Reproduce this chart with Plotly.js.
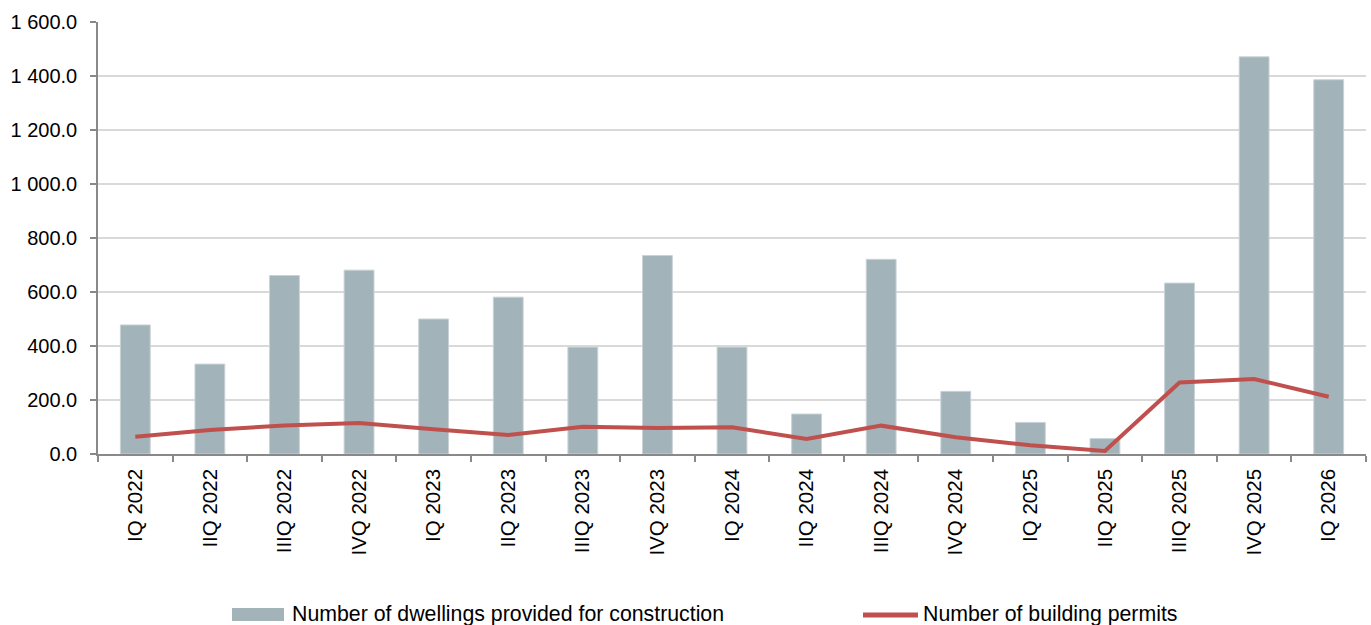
<!DOCTYPE html>
<html>
<head>
<meta charset="utf-8">
<script src="https://cdn.plot.ly/plotly-3.0.1.min.js"></script>
<style>html,body{margin:0;padding:0;background:#fff;}#chart{width:1371px;height:625px;}</style>
</head>
<body>
<div id="chart"></div>
<script>
const categories = ["IQ 2022","IIQ 2022","IIIQ 2022","IVQ 2022","IQ 2023","IIQ 2023","IIIQ 2023","IVQ 2023","IQ 2024","IIQ 2024","IIIQ 2024","IVQ 2024","IQ 2025","IIQ 2025","IIIQ 2025","IVQ 2025","IQ 2026"];
const dwellings = [478, 333, 661, 681, 500, 581, 396, 735, 396, 148, 721, 232, 117, 57, 633, 1471, 1386];
const permits = [64, 89, 106, 115, 92, 70, 101, 96, 99, 56, 105, 62, 32, 11, 265, 278, 212];
const seriesNames = ["Number of dwellings provided for construction", "Number of building permits"];

const BAR_COLOR = '#A2B3BA', LINE_COLOR = '#C0504D';
const M = {l:98, r:5, t:22, b:171}, W = 1371, H = 625;
const PW = W - M.l - M.r, PH = H - M.t - M.b;
const px = v => (v - M.l) / PW;          // page pixel -> paper x
const py = v => (H - M.b - v) / PH;      // page pixel -> paper y

const traces = [
  {type:'bar', x:categories, y:dwellings, name:seriesNames[0], showlegend:false,
   marker:{color:BAR_COLOR, line:{color:'#C9D3D7', width:1}}, hoverinfo:'x+y'},
  {type:'scatter', mode:'lines', x:categories, y:permits, name:seriesNames[1], showlegend:false,
   line:{color:LINE_COLOR, width:4}, hoverinfo:'x+y'}
];
const legendFont = {family:'Liberation Sans, Arial, sans-serif', size:21.3, color:'#000'};
const layout = {
  width:W, height:H,
  margin:M,
  paper_bgcolor:'#ffffff', plot_bgcolor:'#ffffff',
  font:{family:'Liberation Sans, Arial, sans-serif', size:20, color:'#000'},
  separators:'. ',
  bargap:0.6,
  showlegend:false,
  xaxis:{type:'category', tickson:'boundaries', ticks:'outside', ticklen:6, tickcolor:'#898989', tickwidth:1.5,
         showline:true, linecolor:'#898989', linewidth:1.5, showgrid:false, tickangle:-90,
         ticklabelstandoff:5, tickfont:{size:20.5}, automargin:false},
  yaxis:{range:[0,1600], dtick:200, tickformat:',.1f', ticks:'outside', ticklen:6, tickcolor:'#898989', tickwidth:1.5,
         showline:true, linecolor:'#898989', linewidth:1.5, gridcolor:'#D9D9D9', gridwidth:1.5,
         ticklabelstandoff:9, zeroline:false, tickfont:{size:20}, automargin:false},
  shapes:[
    {type:'rect', xref:'paper', yref:'paper', x0:px(232), x1:px(284), y0:py(621), y1:py(608),
     fillcolor:BAR_COLOR, line:{width:0}},
    {type:'line', xref:'paper', yref:'paper', x0:px(863), x1:px(918), y0:py(615), y1:py(615),
     line:{color:LINE_COLOR, width:5}}
  ],
  annotations:[
    {xref:'paper', yref:'paper', x:px(290), y:py(614), xanchor:'left', yanchor:'middle', showarrow:false,
     text:seriesNames[0], font:legendFont},
    {xref:'paper', yref:'paper', x:px(921), y:py(614), xanchor:'left', yanchor:'middle', showarrow:false,
     text:seriesNames[1], font:legendFont}
  ]
};
Plotly.newPlot('chart', traces, layout, {displayModeBar:false});
</script>
</body>
</html>
